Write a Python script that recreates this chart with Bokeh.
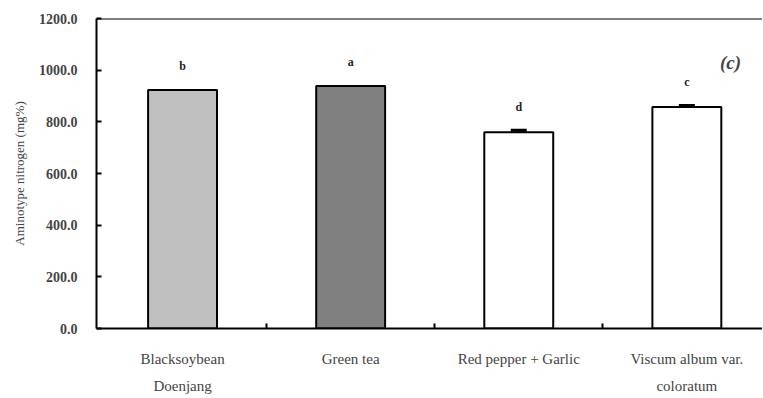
from bokeh.plotting import figure
from bokeh.models import (ColumnDataSource, Range1d, FixedTicker, NumeralTickFormatter,
                          Span, Whisker, TeeHead, LabelSet, Label)
from bokeh.embed import file_html
from bokeh.resources import INLINE

categories = ["Blacksoybean\nDoenjang", "Green tea", "Red pepper + Garlic", "Viscum album var.\ncoloratum"]
values = [923, 939, 760, 857]
errors = [0, 0, 7, 6]
letters = ["b", "a", "d", "c"]
fills = ["#c0c0c0", "#808080", "#ffffff", "#ffffff"]
y_ticks = [0, 200, 400, 600, 800, 1000, 1200]

FONT = "Liberation Serif"

xs = list(range(len(categories)))
src = ColumnDataSource(dict(x=xs, top=values, fill=fills,
                            letter=letters,
                            ly=[v + e + 92 for v, e in zip(values, errors)]))
ex = [x for x, e in zip(xs, errors) if e > 0]
ev = [v for v, e in zip(values, errors) if e > 0]
ee = [v + e for v, e in zip(values, errors) if e > 0]
esrc = ColumnDataSource(dict(x=ex, lower=ev, upper=ee))

p = figure(width=762, height=396, output_backend="svg", toolbar_location=None,
           x_range=Range1d(-0.512, 3.45), y_range=Range1d(0, 1200),
           min_border_left=96, min_border_right=0, min_border_top=18, min_border_bottom=66)
p.outline_line_color = None
p.background_fill_color = "white"
p.border_fill_color = "white"
p.grid.visible = False

p.vbar(x="x", top="top", width=0.41, bottom=0, source=src, fill_color="fill",
       line_color="black", line_width=2)

w = Whisker(base="x", lower="lower", upper="upper", source=esrc,
            upper_head=TeeHead(size=16, line_width=3, line_color="black"),
            lower_head=None, line_color="black", line_width=2)
p.add_layout(w)

p.add_layout(LabelSet(x="x", y="ly", text="letter", source=src, text_align="center",
                      text_baseline="middle", text_font=FONT, text_font_size="12px",
                      text_font_style="bold", text_color="#222222"))

p.add_layout(Label(x=3.26, y=1028, text="(c)", text_align="center", text_baseline="middle",
                   text_font=FONT, text_font_size="19px", text_font_style="bold italic"))

p.add_layout(Span(location=1200, dimension="width", line_color="black", line_width=2))

# y axis
ya = p.yaxis[0]
ya.ticker = FixedTicker(ticks=y_ticks)
ya.formatter = NumeralTickFormatter(format="0.0")
ya.axis_line_width = 2
ya.major_tick_in = 5
ya.major_tick_out = 0
ya.major_tick_line_width = 2
ya.minor_tick_line_color = None
ya.major_label_text_font = FONT
ya.major_label_text_font_size = "14px"
ya.major_label_text_font_style = "bold"
ya.major_label_standoff = 19
ya.axis_label = "Aminotype nitrogen (mg%)"
ya.axis_label_text_font = FONT
ya.axis_label_text_font_size = "13px"
ya.axis_label_text_font_style = "normal"
ya.axis_label_standoff = 9

# x axis
xa = p.xaxis[0]
xa.ticker = FixedTicker(ticks=xs, minor_ticks=[0.5, 1.5, 2.5])
xa.major_label_overrides = {i: c for i, c in zip(xs, categories)}
xa.axis_line_width = 2
xa.major_tick_line_color = None
xa.minor_tick_in = 5
xa.minor_tick_out = 0
xa.minor_tick_line_width = 2
xa.major_label_text_font = FONT
xa.major_label_text_font_size = "15px"
xa.major_label_text_line_height = 1.7
xa.major_label_standoff = 16

open("out.html", "w").write(file_html(p, INLINE))
